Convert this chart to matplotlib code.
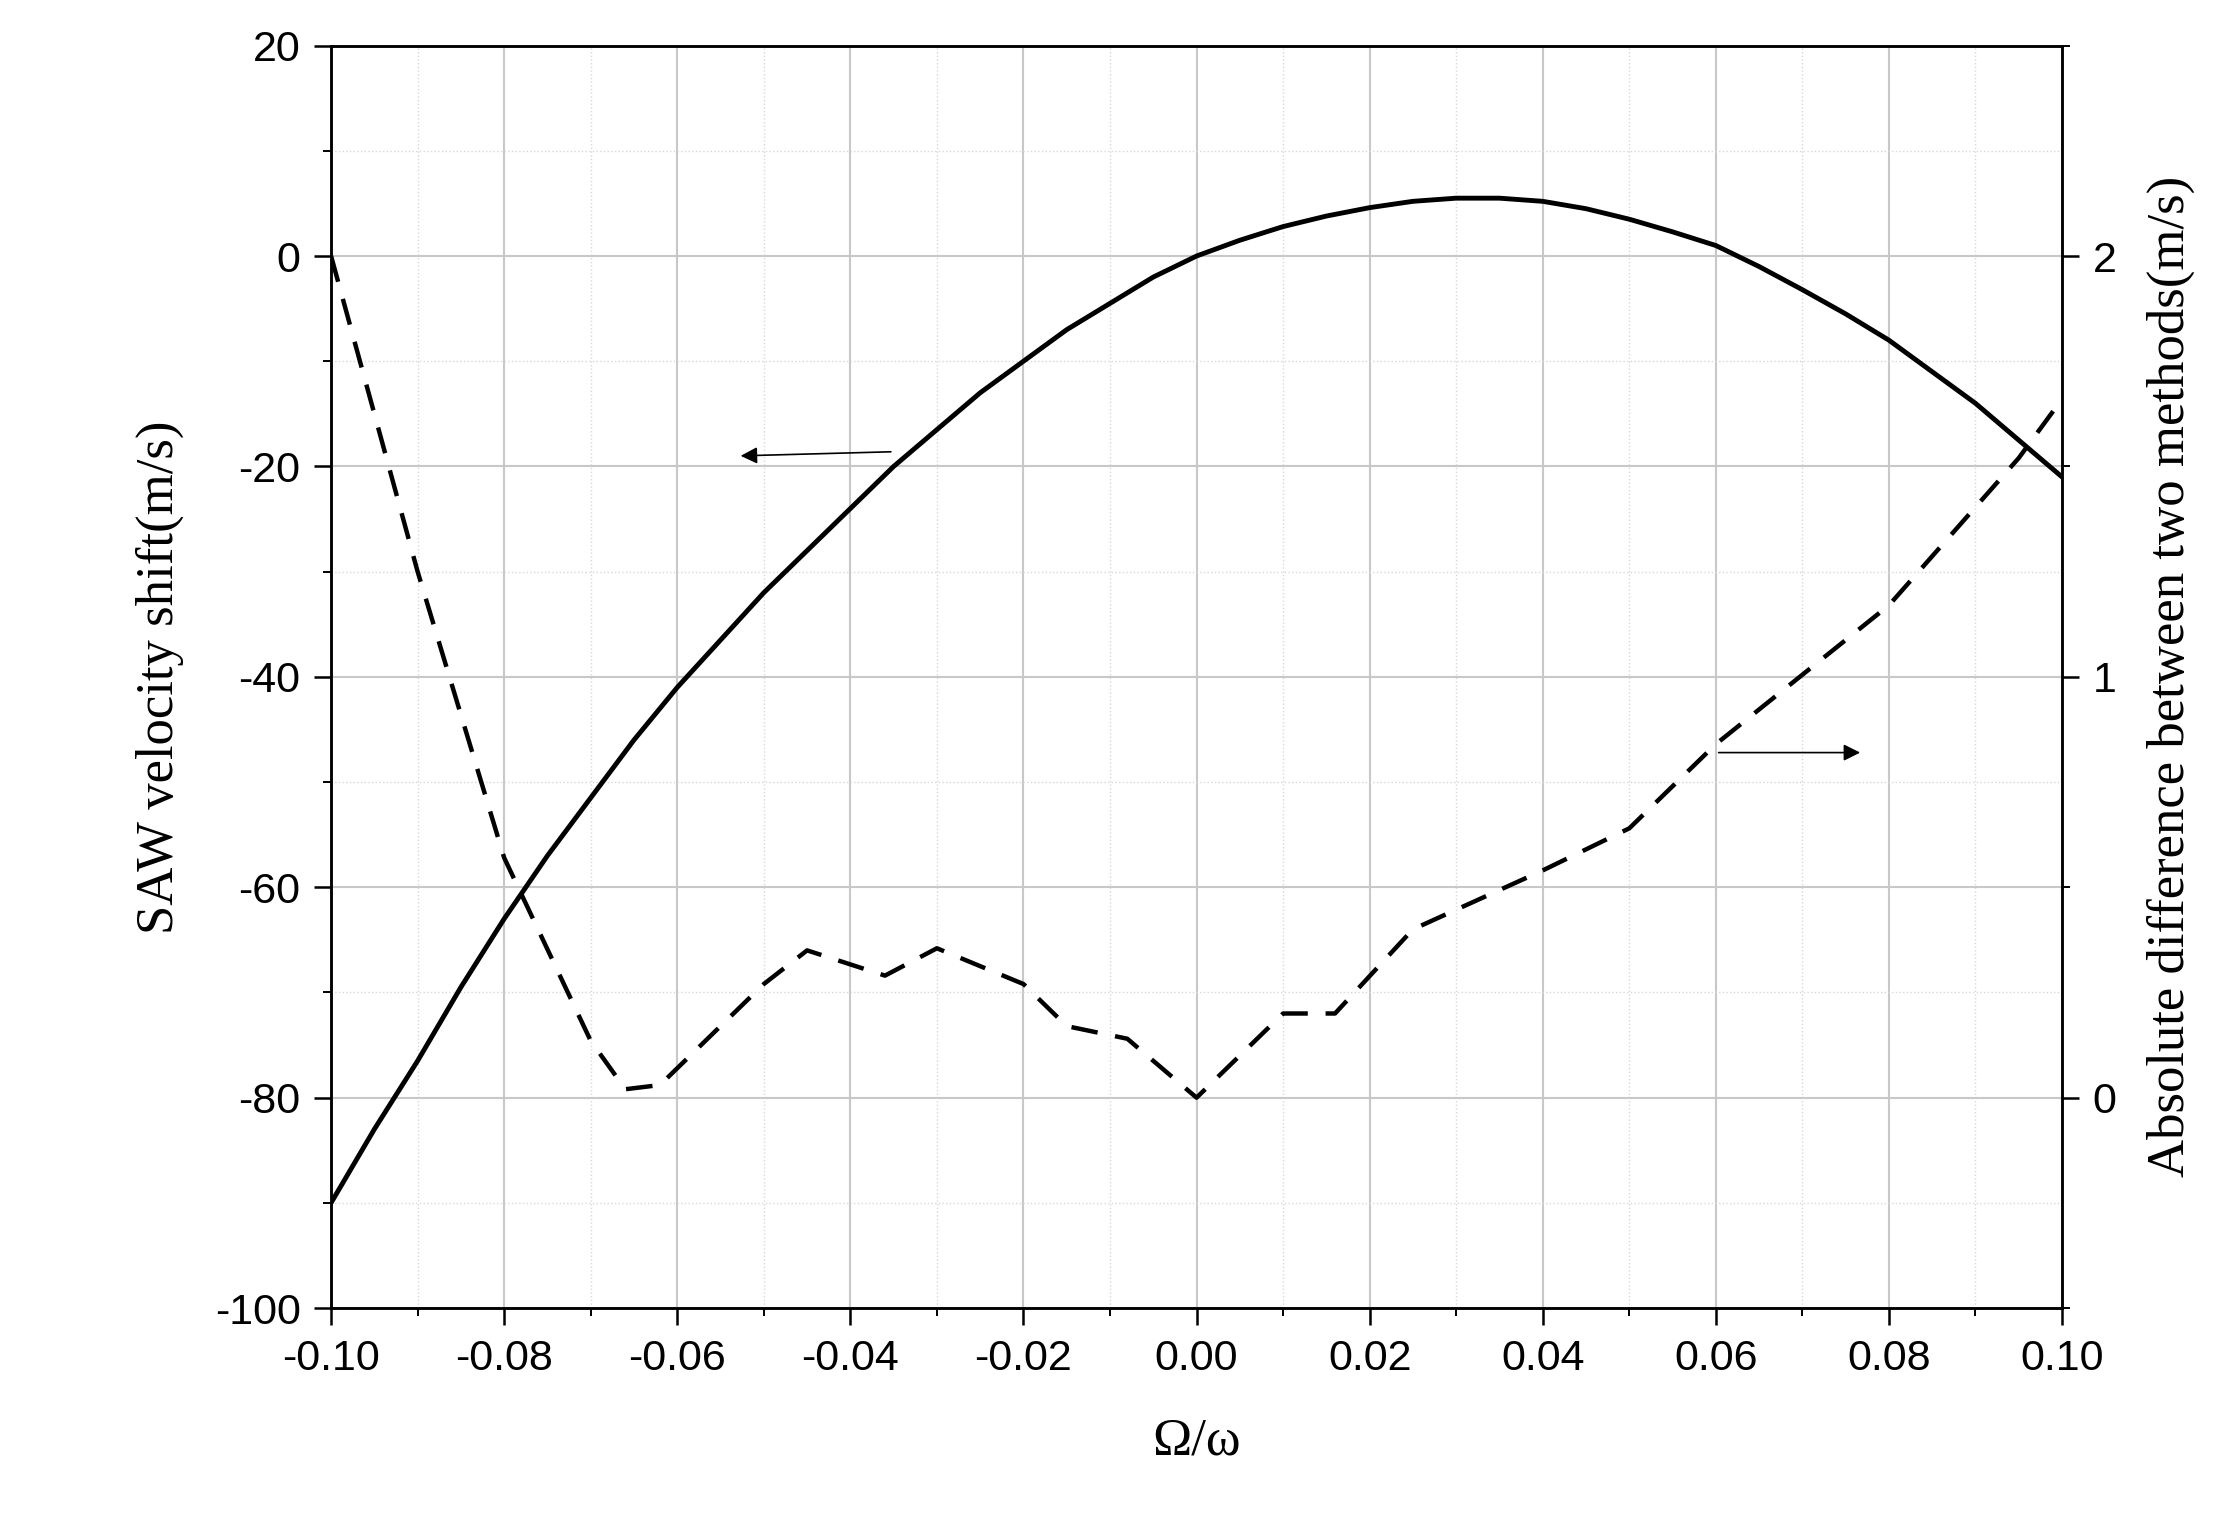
import matplotlib
matplotlib.use("Agg")
import matplotlib.pyplot as plt
import numpy as np
from matplotlib.ticker import MultipleLocator

plt.rcParams['axes.unicode_minus'] = False

solid_x = [-0.100, -0.095, -0.090, -0.085, -0.080, -0.075, -0.070, -0.065, -0.060, -0.055, -0.050, -0.045, -0.040, -0.035, -0.030, -0.025, -0.020, -0.015, -0.010, -0.005, 0.000, 0.005, 0.010, 0.015, 0.020, 0.025, 0.030, 0.035, 0.040, 0.045, 0.050, 0.055, 0.060, 0.065, 0.070, 0.075, 0.080, 0.085, 0.090, 0.095, 0.100]
solid_y = [-90, -83, -76.5, -69.5, -63, -57, -51.5, -46, -41, -36.5, -32, -28, -24, -20, -16.5, -13, -10, -7, -4.5, -2, 0, 1.5, 2.8, 3.8, 4.6, 5.2, 5.5, 5.5, 5.2, 4.5, 3.5, 2.3, 1, -1, -3.2, -5.5, -8, -11, -14, -17.5, -21]
dash_x = [-0.100, -0.090, -0.080, -0.070, -0.066, -0.062, -0.050, -0.045, -0.036, -0.030, -0.020, -0.015, -0.008, 0.000, 0.010, 0.016, 0.025, 0.040, 0.050, 0.060, 0.080, 0.095, 0.100]
dash_y = [2.00, 1.25, 0.57, 0.135, 0.02, 0.03, 0.27, 0.35, 0.29, 0.355, 0.27, 0.17, 0.14, 0.00, 0.20, 0.20, 0.40, 0.54, 0.64, 0.84, 1.17, 1.52, 1.66]

fig = plt.figure(figsize=(22.22, 15.21), dpi=100)
ax = fig.add_axes([0.149, 0.14, 0.779, 0.83])
ax2 = ax.twinx()

ax.plot(solid_x, solid_y, color='black', lw=3.5)
ax2.plot(dash_x, dash_y, color='black', lw=3.2, ls=(0, (6, 4)))

ax.set_xlim(-0.1, 0.1)
ax.set_ylim(-100, 20)
ax2.set_ylim(-0.5, 2.5)
ax.xaxis.set_minor_locator(MultipleLocator(0.01))
ax.yaxis.set_major_locator(MultipleLocator(20))
ax.yaxis.set_minor_locator(MultipleLocator(10))
ax2.yaxis.set_major_locator(MultipleLocator(1))
ax2.yaxis.set_minor_locator(MultipleLocator(0.5))

ax.grid(True, which='major', color='#c8c8c8', lw=1.5)
ax.grid(True, which='minor', color='#d8d8d8', lw=1, ls=':')
ax.set_axisbelow(True)

xt = np.arange(-0.1, 0.1001, 0.02)
ax.set_xticks(xt)
ax.set_xticklabels([f"{v:.2f}" if abs(v) > 1e-9 else "0.00" for v in xt])
for a in (ax, ax2):
    a.tick_params(which='major', length=12, width=1.8, labelsize=31, pad=10)
    a.tick_params(which='minor', length=6, width=1.4)
    for lab in a.get_xticklabels() + a.get_yticklabels():
        lab.set_family('Liberation Sans')
    for s in a.spines.values():
        s.set_linewidth(1.8)

ax.set_xlabel('Ω/ω', fontsize=38, family='Liberation Serif', labelpad=28)
ax.set_ylabel('SAW velocity shift(m/s)', fontsize=38, family='Liberation Serif', labelpad=22)
ax2.set_ylabel('Absolute difference between two methods(m/s)', fontsize=38, family='Liberation Serif', labelpad=22)

ax.annotate('', xy=(-0.053, -19), xytext=(-0.035, -18.6),
            arrowprops=dict(arrowstyle='-|>', color='black', lw=1.2, mutation_scale=25))
ax2.annotate('', xy=(0.077, 0.82), xytext=(0.06, 0.82),
             arrowprops=dict(arrowstyle='-|>', color='black', lw=1.2, mutation_scale=25))

fig.savefig('out.png', dpi=100)
